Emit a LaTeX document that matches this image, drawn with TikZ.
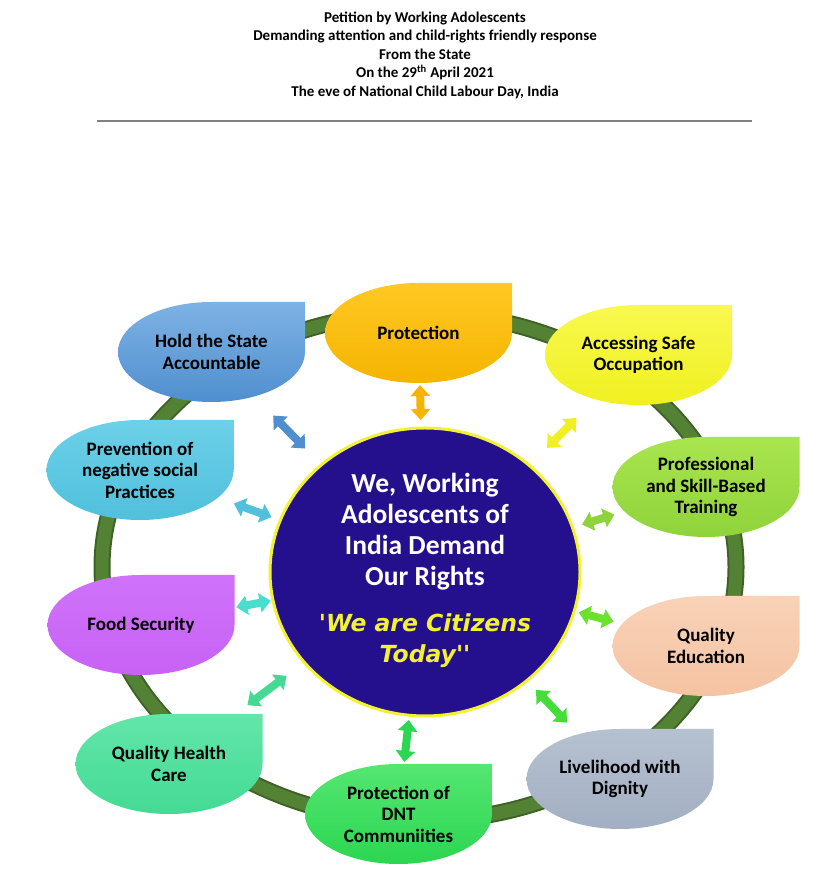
\documentclass[tikz,border=0pt]{standalone}
\usepackage{fontspec}
\setmainfont{Carlito}
\newfontfamily\citizenfont{DejaVu Sans}
\usetikzlibrary{calc, shapes.geometric, arrows.meta}

\definecolor{ringgreen}{HTML}{548235}
\definecolor{ringdark}{HTML}{3E6226}
\definecolor{deepblue}{HTML}{24108C}
\definecolor{citizen}{HTML}{F2F230}
\definecolor{holdtop}{HTML}{7EB2E4}   \definecolor{holdbot}{HTML}{4F8FCF}
\definecolor{prottop}{HTML}{FFC824}   \definecolor{protbot}{HTML}{F5B400}
\definecolor{occtop}{HTML}{F8F850}    \definecolor{occbot}{HTML}{F0F020}
\definecolor{traintop}{HTML}{A9E54F}  \definecolor{trainbot}{HTML}{8FD33A}
\definecolor{edutop}{HTML}{F9D2B8}    \definecolor{edubot}{HTML}{F4C3A2}
\definecolor{livtop}{HTML}{B6C1D0}    \definecolor{livbot}{HTML}{A2AFC2}
\definecolor{dnttop}{HTML}{55E672}    \definecolor{dntbot}{HTML}{2BD650}
\definecolor{healthtop}{HTML}{62E6AA} \definecolor{healthbot}{HTML}{44DA94}
\definecolor{foodtop}{HTML}{CF72FA}   \definecolor{foodbot}{HTML}{C862F5}
\definecolor{prevtop}{HTML}{6CD0E8}   \definecolor{prevbot}{HTML}{50C0DC}
\definecolor{eduarrow}{HTML}{6BE22E}
\definecolor{livarrow}{HTML}{45DD3A}
\definecolor{foodarrow}{HTML}{48DDCC}

\begin{document}
\begin{tikzpicture}[x=1pt, y=1pt,
    tearlabel/.style={align=center, text=black, font=\bfseries\fontsize{19}{21.5}\selectfont},
    dblarrow/.style={line width=8pt, {Triangle[length=11pt,width=19pt]}-{Triangle[length=11pt,width=19pt]}}]

    % Half sizes of the teardrops
    \def\tearw{93.5}
    \def\tearh{50}
    % Teardrop: ellipse with a square top right corner
    \def\teardrop#1#2#3{\shade[top color=#2, bottom color=#3] #1 ++(\tearw,0) -- ++(0,\tearh) -- ++(-\tearw,0) arc[start angle=90, end angle=360, x radius=\tearw, y radius=\tearh] -- cycle;}

    \useasboundingbox (0,0) rectangle (839,888);

    % Heading
    \node[align=center, font=\bfseries\fontsize{15}{18.5}\selectfont] (title) at (425,833)
        {Petition by Working Adolescents\\
         Demanding attention and child-rights friendly response\\
         From the State\\
         On the 29\textsuperscript{th} April 2021\\
         The eve of National Child Labour Day, India};
    \draw[gray, line width=1.2pt] (97,767) -- (752,767);

    % The green ring
    \draw[ringdark, line width=17pt] (419,321) ellipse[x radius=317, y radius=254];
    \draw[ringgreen, line width=13pt] (419,321) ellipse[x radius=317, y radius=254];

    % Centre circle
    \node[ellipse, draw=citizen, fill=deepblue, line width=3pt, minimum width=310, minimum height=288] (centre) at (425,316) {};
    \node[align=center, text=white, font=\bfseries\fontsize{27.5}{31}\selectfont] (slogan) at (425,318)
        {We, Working\\Adolescents of\\India Demand\\Our Rights\\[15pt]
         {\color{citizen}\citizenfont\fontsize{23.5}{31}\selectfont\bfseries\itshape \textquotesingle We are Citizens}\\
         {\color{citizen}\citizenfont\fontsize{23.5}{31}\selectfont\bfseries\itshape Today\textquotesingle\textquotesingle}};

    % Teardrops
    \teardrop{(211.5,536)}{holdtop}{holdbot}
    \node[tearlabel] (hold) at (211.5,536) {Hold the State\\Accountable};
    \teardrop{(418.5,555)}{prottop}{protbot}
    \node[tearlabel] (protect) at (418.5,555) {Protection};
    \teardrop{(638.5,533)}{occtop}{occbot}
    \node[tearlabel] (occup) at (638.5,533) {Accessing Safe\\Occupation};
    \teardrop{(706,401)}{traintop}{trainbot}
    \node[tearlabel] (train) at (706,401) {Professional\\and Skill-Based\\Training};
    \teardrop{(706,242)}{edutop}{edubot}
    \node[tearlabel] (educ) at (706,242) {Quality\\Education};
    \teardrop{(620,109)}{livtop}{livbot}
    \node[tearlabel] (liveli) at (620,109) {Livelihood with\\Dignity};
    \teardrop{(398.5,74)}{dnttop}{dntbot}
    \node[tearlabel] (dnt) at (398.5,74) {Protection of\\DNT\\Communiities};
    \teardrop{(169,124)}{healthtop}{healthbot}
    \node[tearlabel] (health) at (169,124) {Quality Health\\Care};
    \teardrop{(141,263)}{foodtop}{foodbot}
    \node[tearlabel] (food) at (141,263) {Food Security};
    \teardrop{(140,418)}{prevtop}{prevbot}
    \node[tearlabel] (prevent) at (140,418) {Prevention of\\negative social\\Practices};

    % Double arrows between the centre and each teardrop
    \draw[dblarrow, holdbot] ($(centre)!172pt!(hold)$) -- ($(centre)!218pt!(hold)$);
    \draw[dblarrow, protbot] ($(centre)!152pt!(protect)$) -- ($(centre)!187pt!(protect)$);
    \draw[dblarrow, occbot] ($(centre)!174pt!(occup)$) -- ($(centre)!216pt!(occup)$);
    \draw[dblarrow, trainbot] ($(centre)!164pt!(train)$) -- ($(centre)!198pt!(train)$);
    \draw[dblarrow, eduarrow] ($(centre)!159pt!(educ)$) -- ($(centre)!195pt!(educ)$);
    \draw[dblarrow, livarrow] ($(centre)!162pt!(liveli)$) -- ($(centre)!207pt!(liveli)$);
    \draw[dblarrow, dntbot] ($(centre)!149pt!(dnt)$) -- ($(centre)!191pt!(dnt)$);
    \draw[dblarrow, healthbot] ($(centre)!173pt!(health)$) -- ($(centre)!222pt!(health)$);
    \draw[dblarrow, foodarrow] ($(centre)!157pt!(food)$) -- ($(centre)!192pt!(food)$);
    \draw[dblarrow, prevbot] ($(centre)!163pt!(prevent)$) -- ($(centre)!203pt!(prevent)$);

\end{tikzpicture}
\end{document}
